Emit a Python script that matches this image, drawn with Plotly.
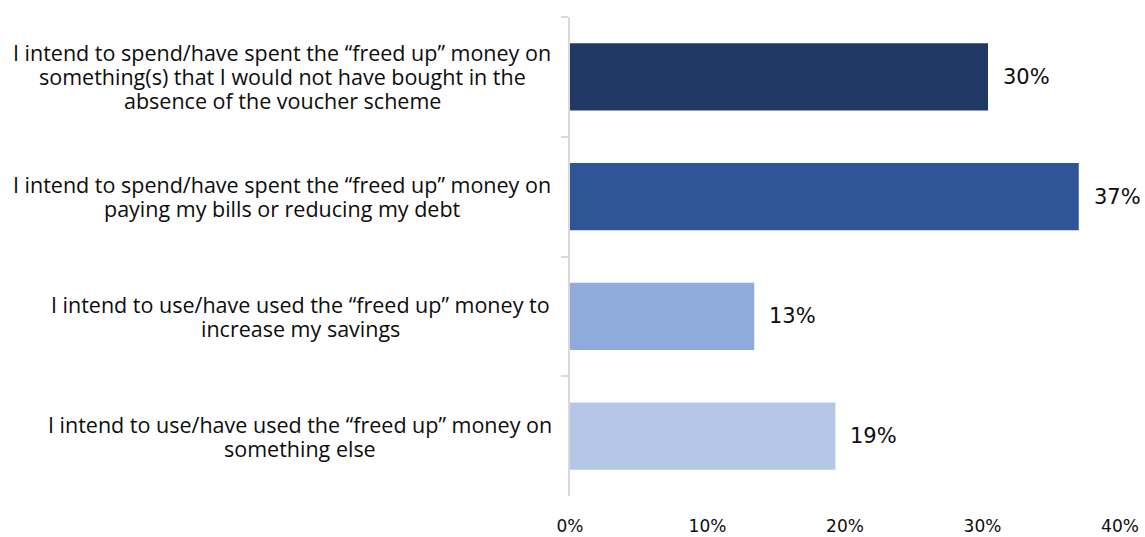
import plotly.graph_objects as go

# Survey responses: use of the "freed up" money
categories = [
    "I intend to spend/have spent the “freed up” money on<br>something(s) that I would not have bought in the<br>absence of the voucher scheme",
    "I intend to spend/have spent the “freed up” money on<br>paying my bills or reducing my debt",
    "I intend to use/have used the “freed up” money to<br>increase my savings",
    "I intend to use/have used the “freed up” money on<br>something else",
]
shares = [30.4, 37.0, 13.4, 19.3]
bar_colors = ["#203864", "#2F5597", "#8FAADC", "#B4C7E7"]
x_ticks = [0, 10, 20, 30, 40]
x_tick_labels = ["0%", "10%", "20%", "30%", "40%"]

# layout of the category label column (pixels)
PLOT_LEFT, PLOT_RIGHT = 570, 1120
label_centers_px = [282, 282, 300, 300]
LINE_STEP = 24

keys = [f"c{i}" for i in range(len(categories))]

fig = go.Figure(
    go.Bar(
        x=shares,
        y=keys,
        orientation="h",
        marker=dict(color=bar_colors, line=dict(width=0)),
        width=0.56,
        hoverinfo="skip",
    )
)

# value labels to the right of each bar
for k, v in zip(keys, shares):
    fig.add_annotation(
        x=v, y=k, xref="x", yref="y",
        text=f"{v:.0f}%", showarrow=False,
        xanchor="left", yanchor="middle", xshift=13,
        font=dict(family="DejaVu Sans", size=21, color="#0d0d0d"),
    )

# centred multi-line category labels, one annotation per line for tight leading
for k, c, cx in zip(keys, categories, label_centers_px):
    lines = c.split("<br>")
    n = len(lines)
    for i, line in enumerate(lines):
        fig.add_annotation(
            x=(cx - PLOT_LEFT) / (PLOT_RIGHT - PLOT_LEFT), y=k,
            xref="paper", yref="y",
            text=line, showarrow=False,
            xanchor="center", yanchor="middle",
            yshift=-(i - (n - 1) / 2) * LINE_STEP,
            font=dict(family="Open Sans", size=21.5, color="#0d0d0d"),
        )

fig.update_layout(
    width=1145, height=537,
    margin=dict(l=PLOT_LEFT, r=1145 - PLOT_RIGHT, t=17, b=41),
    paper_bgcolor="white", plot_bgcolor="white",
    showlegend=False,
    xaxis=dict(
        range=[0, 40], tickvals=x_ticks, ticktext=x_tick_labels,
        showgrid=False, zeroline=False, showline=False, ticks="",
        tickfont=dict(family="DejaVu Sans", size=17, color="#0d0d0d"),
        ticklabelstandoff=18, automargin=False,
    ),
    yaxis=dict(
        autorange="reversed", showticklabels=False, automargin=False,
        showgrid=False, zeroline=False,
        showline=True, linecolor="#d9d9d9", linewidth=2,
        ticks="outside", tickson="boundaries", ticklen=7,
        tickcolor="#d9d9d9", tickwidth=2,
    ),
)

fig.write_html("out.html")
